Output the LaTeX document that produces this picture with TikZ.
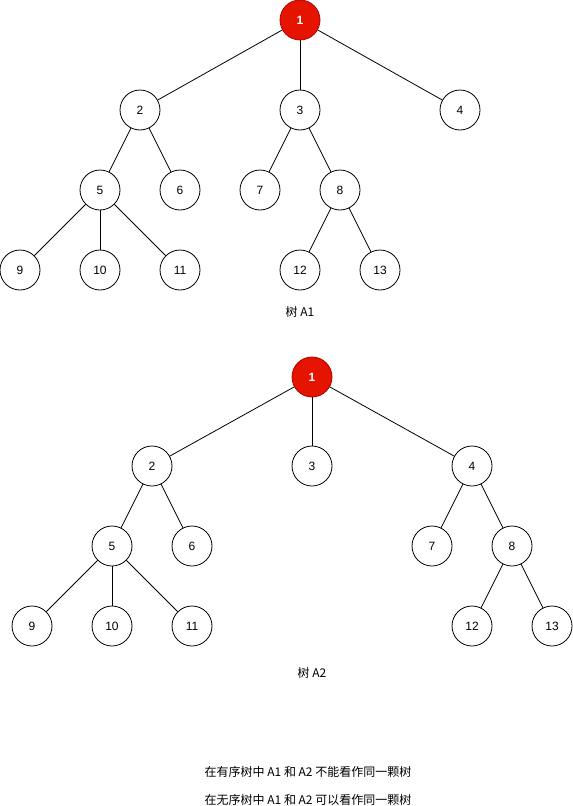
\documentclass[tikz,border=0pt]{standalone}
\usepackage{fontspec}
\setmainfont{Liberation Sans}
\newfontfamily\cjk{Noto Sans CJK SC}
\definecolor{nodered}{HTML}{E51400}
\definecolor{nodeedge}{HTML}{B20000}
\begin{document}
\begin{tikzpicture}[x=1pt,y=-1pt,
  tn/.style={circle,draw=black,fill=white,minimum size=40pt,inner sep=0pt,font=\fontsize{12}{14}\selectfont,line width=0.8pt},
  rt/.style={tn,fill=nodered,draw=nodeedge,text=white,font=\fontsize{12}{14}\selectfont\bfseries},
  lbl/.style={font=\fontsize{12}{14}\selectfont\cjk,inner sep=0pt},
  ed/.style={line width=0.8pt}]
\useasboundingbox (0,0) rectangle (573,806);
% Tree A1
\node[rt] (a1) at (300,20) {1};
\node[tn] (a2) at (140,110) {2};
\node[tn] (a3) at (300,110) {3};
\node[tn] (a4) at (460,110) {4};
\node[tn] (a5) at (100,190) {5};
\node[tn] (a6) at (180,190) {6};
\node[tn] (a7) at (260,190) {7};
\node[tn] (a8) at (340,190) {8};
\node[tn] (a9) at (20,270) {9};
\node[tn] (a10) at (100,270) {10};
\node[tn] (a11) at (180,270) {11};
\node[tn] (a12) at (300,270) {12};
\node[tn] (a13) at (380,270) {13};
\foreach \p/\c in {a1/a2,a1/a3,a1/a4,a2/a5,a2/a6,a3/a7,a3/a8,a5/a9,a5/a10,a5/a11,a8/a12,a8/a13}
  \draw[ed] (\p) -- (\c);
\node[lbl] (la1) at (300,312) {树 A1};
% Tree A2
\node[rt] (b1) at (312,377) {1};
\node[tn] (b2) at (152,466) {2};
\node[tn] (b3) at (312,466) {3};
\node[tn] (b4) at (472,466) {4};
\node[tn] (b5) at (112,546) {5};
\node[tn] (b6) at (192,546) {6};
\node[tn] (b7) at (432,546) {7};
\node[tn] (b8) at (512,546) {8};
\node[tn] (b9) at (32,626) {9};
\node[tn] (b10) at (112,626) {10};
\node[tn] (b11) at (192,626) {11};
\node[tn] (b12) at (472,626) {12};
\node[tn] (b13) at (552,626) {13};
\foreach \p/\c in {b1/b2,b1/b3,b1/b4,b2/b5,b2/b6,b4/b7,b4/b8,b5/b9,b5/b10,b5/b11,b8/b12,b8/b13}
  \draw[ed] (\p) -- (\c);
\node[lbl] (la2) at (312,673) {树 A2};
\node[lbl] (n1) at (308,772) {在有序树中 A1 和 A2 不能看作同一颗树};
\node[lbl] (n2) at (308,800) {在无序树中 A1 和 A2 可以看作同一颗树};
\end{tikzpicture}
\end{document}
